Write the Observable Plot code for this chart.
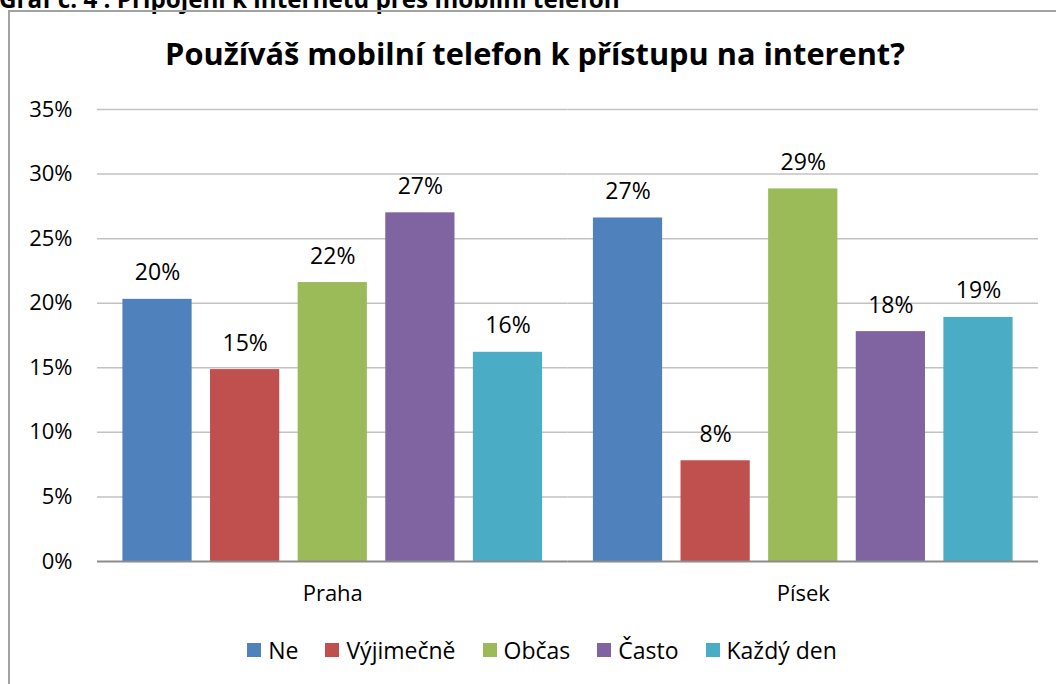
<!DOCTYPE html>
<html>
<head>
<meta charset="utf-8">
<script src="https://cdn.jsdelivr.net/npm/d3@7"></script>
<script src="https://cdn.jsdelivr.net/npm/@observablehq/plot@0.6"></script>
<style>
  html, body { margin: 0; padding: 0; background: #fff; }
  #page { position: relative; width: 1056px; height: 684px; overflow: hidden; background: #fff; font-family: "Open Sans", sans-serif; color: #000; }
  #caption { position: absolute; left: -1px; top: -11px; font-weight: bold; font-size: 19px; line-height: 19px; white-space: nowrap; }
  #frame { position: absolute; left: 8px; top: 10px; width: 1100px; height: 720px; border: 2px solid #a3a3a3; box-sizing: border-box; }
  #title { position: absolute; left: 0; width: 1070px; top: 40px; text-align: center; font-weight: bold; font-size: 26px; line-height: 26px; white-space: nowrap; }
  #title span, #caption span { display: inline-block; }
  #chart { position: absolute; left: 0; top: 90px; }
  #legend { position: absolute; left: 0; width: 1084px; top: 638px; display: flex; justify-content: center; align-items: center; font-size: 23px; line-height: 24px; }
  .item { display: flex; align-items: center; margin: 0 13.5px; }
  .sw { width: 14px; height: 14px; margin-right: 7px; }
</style>
</head>
<body>
<div id="page">
  <div id="caption"><span id="captionText"></span></div>
  <div id="frame"></div>
  <div id="title"><span id="titleText"></span></div>
  <div id="chart"></div>
  <div id="legend"></div>
</div>
<script>
const captionText = "Graf č. 4 : Připojení k internetu přes mobilní telefon";
const titleText = "Používáš mobilní telefon k přístupu na interent?";
const cities = ["Praha", "Písek"];
const series = ["Ne", "Výjimečně", "Občas", "Často", "Každý den"];
const prahaValues = [0.203, 0.1486, 0.216, 0.270, 0.162];
const pisekValues = [0.266, 0.078, 0.2885, 0.178, 0.189];
const seriesColors = ["#4F81BD", "#C0504D", "#9BBB59", "#8064A2", "#4BACC6"];
const yTicks = [0, 0.05, 0.10, 0.15, 0.20, 0.25, 0.30, 0.35];

const valuesByCity = {"Praha": prahaValues, "Písek": pisekValues};
const data = cities.flatMap(city => series.map((s, i) => ({city, series: s, value: valuesByCity[city][i]})));

document.getElementById("captionText").textContent = captionText;
document.getElementById("titleText").textContent = titleText;

function fit(id, target) {
  const el = document.getElementById(id);
  const parent = el.parentElement;
  const fs = parseFloat(getComputedStyle(parent).fontSize);
  const w = el.getBoundingClientRect().width;
  if (w > 0) {
    parent.style.fontSize = (fs * target / w) + "px";
  }
}
fit("captionText", 621);
fit("titleText", 740);

const pct = d3.format(".0%");

const chart = Plot.plot({
  width: 1056,
  height: 530,
  marginLeft: 97,
  marginRight: 18,
  marginTop: 19,
  marginBottom: 59,
  style: {fontFamily: "Open Sans, sans-serif", fontSize: "22px", color: "#000", background: "transparent"},
  fx: {domain: cities, paddingInner: 0, paddingOuter: 0, round: false, label: null},
  x: {domain: series, paddingInner: 0.21, paddingOuter: 0.29, round: false, axis: null},
  y: {domain: [0, 0.35], label: null},
  color: {domain: series, range: seriesColors},
  marks: [
    Plot.ruleY(yTicks.filter(t => t > 0), {stroke: "#c2c2c2", strokeWidth: 1.5}),
    Plot.barY(data, {fx: "city", x: "series", y: "value", fill: "series"}),
    Plot.ruleY([0], {stroke: "#8c8c8c", strokeWidth: 2}),
    Plot.text(data, {fx: "city", x: "series", y: "value", text: d => pct(d.value), dy: -19, lineAnchor: "bottom", fill: "#000", fontSize: 23}),
    Plot.axisY({ticks: yTicks, tickFormat: pct, tickSize: 0, tickPadding: 25, label: null}),
    Plot.axisFx({anchor: "bottom", tickSize: 0, tickPadding: 24, label: null})
  ]
});
document.getElementById("chart").appendChild(chart);

const legend = document.getElementById("legend");
series.forEach((s, i) => {
  const item = document.createElement("div");
  item.className = "item";
  const sw = document.createElement("div");
  sw.className = "sw";
  sw.style.background = seriesColors[i];
  const label = document.createElement("span");
  label.textContent = s;
  item.appendChild(sw);
  item.appendChild(label);
  legend.appendChild(item);
});
</script>
</body>
</html>
